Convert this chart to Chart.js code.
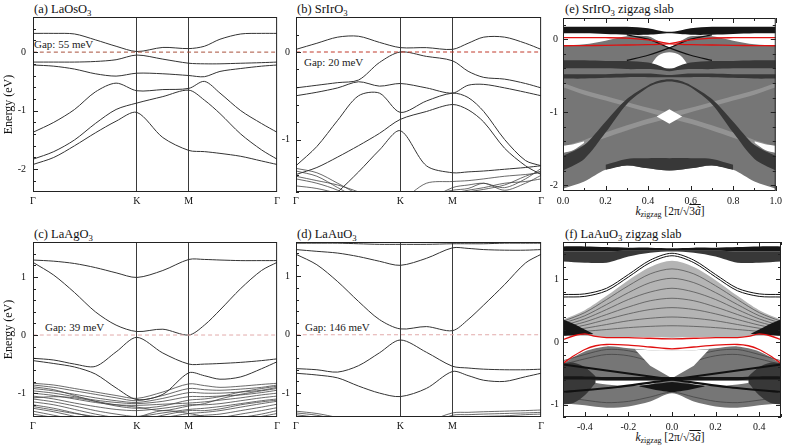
<!DOCTYPE html>
<html>
<head>
<meta charset="utf-8">
<script src="https://cdn.jsdelivr.net/npm/chart.js@4.4.1/dist/chart.umd.min.js"></script>
<style>
  body { margin: 0; background: #fff; width: 789px; height: 447px; position: relative; overflow: hidden;
         font-family: 'Liberation Serif', 'Times New Roman', serif; color: #111; }
  canvas { position: absolute; }
  .t { position: absolute; font-size: 12.5px; white-space: nowrap; line-height: 1; }
  .g { position: absolute; font-size: 11px; white-space: nowrap; line-height: 1; color: #222; }
  .k { position: absolute; font-size: 11.5px; white-space: nowrap; line-height: 1; transform: translateX(-50%); }
  sub { font-size: 0.7em; vertical-align: -0.3em; line-height: 0; }
</style>
</head>
<body>
<div class="t" style="left:34px;top:3px">(a) LaOsO<sub>3</sub></div>
<div class="t" style="left:297px;top:3px">(b) SrIrO<sub>3</sub></div>
<div class="t" style="left:565px;top:3px">(e) SrIrO<sub>3</sub> zigzag slab</div>
<div class="t" style="left:34px;top:228px">(c) LaAgO<sub>3</sub></div>
<div class="t" style="left:297px;top:228px">(d) LaAuO<sub>3</sub></div>
<div class="t" style="left:565px;top:228px">(f) LaAuO<sub>3</sub> zigzag slab</div>

<div class="g" style="left:34px;top:39px">Gap: 55 meV</div>
<div class="g" style="left:304px;top:57px">Gap: 20 meV</div>
<div class="g" style="left:45px;top:322px">Gap: 39 meV</div>
<div class="g" style="left:305px;top:322px">Gap: 146 meV</div>

<div class="k" style="left:670px;top:206px"><i>k</i><sub>zigzag</sub> [2π/√<span style="text-decoration:overline">3<i>ã</i></span>]</div>
<div class="k" style="left:670px;top:432px"><i>k</i><sub>zigzag</sub> [2π/√<span style="text-decoration:overline">3<i>ã</i></span>]</div>

<script>
// k path Γ-K-M-Γ used by the bulk panels
const K_NODES = [0, 1, 1.5, 2.35];
const K_LABELS = ['Γ', 'K', 'M', 'Γ'];
const K_PATH = [0, 0.2, 0.4, 0.6, 0.8, 1.0, 1.25, 1.5, 1.65, 1.8, 2.0, 2.2, 2.35];

// (a) LaOsO3
const aBand1 = [0.32, 0.32, 0.31, 0.21, 0.1, 0.01, 0.08, 0.06, 0.1, 0.22, 0.31, 0.32, 0.32];
const aBand2 = [-0.17, -0.17, -0.17, -0.16, -0.13, -0.05, -0.12, -0.19, -0.2, -0.2, -0.19, -0.18, -0.17];
const aBand3 = [-0.22, -0.24, -0.29, -0.37, -0.41, -0.36, -0.37, -0.40, -0.42, -0.33, -0.28, -0.24, -0.22];
const aBand4 = [-1.37, -1.2, -0.98, -0.68, -0.53, -0.66, -0.64, -0.62, -0.5, -0.7, -1.0, -1.22, -1.37];
const aBand5 = [-1.83, -1.7, -1.5, -1.22, -0.98, -0.87, -0.76, -0.65, -0.82, -1.05, -1.4, -1.67, -1.83];
const aBand6 = [-1.92, -1.8, -1.6, -1.38, -1.18, -1.03, -1.46, -1.68, -1.7, -1.73, -1.78, -1.86, -1.92];
const aYTicks = [-2, -1, 0];

// (b) SrIrO3
const bBand1 = [0.03, 0.1, 0.17, 0.18, 0.11, 0.05, 0.05, 0.03, 0.1, 0.17, 0.17, 0.1, 0.03];
const bBand2 = [-0.41, -0.38, -0.35, -0.32, -0.12, 0.0, -0.05, -0.1, -0.22, -0.29, -0.31, -0.36, -0.41];
const bBand3 = [-0.5, -0.46, -0.41, -0.34, -0.39, -0.36, -0.41, -0.47, -0.38, -0.37, -0.41, -0.46, -0.5];
const bBand4 = [-1.3, -1.08, -0.78, -0.5, -0.47, -0.69, -0.56, -0.47, -0.52, -0.68, -1.0, -1.24, -1.3];
const bBand5 = [-1.4, -1.32, -1.2, -1.07, -0.93, -0.77, -0.68, -0.6, -0.66, -0.8, -1.1, -1.3, -1.4];
const bBand6 = [-1.9, -1.8, -1.6, -1.37, -1.12, -0.9, -1.3, -1.38, -1.37, -1.36, -1.34, -1.32, -1.3];
const bBand7 = [-1.45, -1.5, -1.58, -1.7, -1.75, -1.7, -1.5, -1.48, -1.47, -1.45, -1.42, -1.4, -1.38];
const bBand8 = [-1.33, -1.38, -1.5, -1.63, -1.75, -1.8, -1.7, -1.55, -1.52, -1.5, -1.55, -1.45, -1.33];
const bBand9 = [-1.53, -1.56, -1.62, -1.72, -1.8, -1.85, -1.75, -1.62, -1.58, -1.55, -1.5, -1.48, -1.45];
const bBand10 = [-1.36, -1.42, -1.55, -1.68, -1.8, -1.9, -1.8, -1.66, -1.6, -1.57, -1.52, -1.42, -1.36];
const bBand11 = [-1.42, -1.47, -1.52, -1.6, -1.7, -1.75, -1.65, -1.58, -1.56, -1.5, -1.58, -1.5, -1.41];
const bYTicks = [-1, 0];

// (c) LaAgO3
const cBand1 = [1.29, 1.27, 1.23, 1.16, 1.07, 0.99, 1.11, 1.30, 1.30, 1.29, 1.28, 1.28, 1.28];
const cBand2 = [1.25, 1.03, 0.73, 0.4, 0.17, 0.06, 0.1, 0.0, 0.17, 0.43, 0.8, 1.11, 1.25];
const cBand3 = [-0.4, -0.43, -0.5, -0.54, -0.29, -0.04, -0.31, -0.5, -0.5, -0.49, -0.47, -0.44, -0.41];
const cBand4 = [-0.44, -0.49, -0.55, -0.67, -0.91, -1.11, -1.02, -0.65, -0.7, -0.76, -0.72, -0.58, -0.46];
const cLow1 = [-0.83, -0.86, -0.92, -0.98, -1.04, -1.09, -0.98, -0.84, -0.87, -0.9, -0.88, -0.85, -0.83];
const cLow2 = [-0.86, -0.9, -0.96, -1.02, -1.08, -1.13, -1.04, -0.92, -0.94, -0.95, -0.93, -0.9, -0.86];
const cLow3 = [-0.92, -0.96, -1.02, -1.08, -1.13, -1.16, -1.09, -0.99, -1.0, -1.0, -0.98, -0.95, -0.9];
const cLow4 = [-0.96, -1.0, -1.06, -1.12, -1.16, -1.18, -1.14, -1.06, -1.06, -1.05, -1.03, -0.99, -0.95];
const cLow5 = [-1.0, -1.04, -1.1, -1.16, -1.2, -1.21, -1.19, -1.17, -1.15, -1.12, -1.08, -1.03, -1.0];
const cLow6 = [-1.05, -1.1, -1.17, -1.23, -1.28, -1.3, -1.26, -1.2, -1.2, -1.18, -1.13, -1.08, -1.05];
const cLow7 = [-1.1, -1.15, -1.22, -1.3, -1.36, -1.4, -1.34, -1.28, -1.26, -1.23, -1.18, -1.13, -1.1];
const cLow8 = [-1.15, -1.2, -1.28, -1.36, -1.42, -1.45, -1.42, -1.35, -1.33, -1.3, -1.24, -1.18, -1.14];
const cLow9 = [-1.2, -1.26, -1.34, -1.42, -1.48, -1.5, -1.46, -1.4, -1.38, -1.36, -1.3, -1.24, -1.19];
const cLow10 = [-1.26, -1.32, -1.4, -1.48, -1.52, -1.55, -1.5, -1.44, -1.43, -1.42, -1.36, -1.3, -1.25];
const cLow11 = [-1.31, -1.38, -1.45, -1.52, -1.58, -1.6, -1.55, -1.48, -1.5, -1.48, -1.42, -1.36, -1.3];
const cLow12 = [-1.36, -1.42, -1.5, -1.56, -1.6, -1.62, -1.6, -1.55, -1.55, -1.52, -1.47, -1.4, -1.35];
const cLow13 = [-1.6, -1.6, -1.6, -1.6, -1.55, -1.42, -1.3, -1.35, -1.4, -1.45, -1.5, -1.55, -1.6];
const cLow14 = [-0.89, -0.94, -1.04, -1.14, -1.22, -1.26, -1.22, -1.12, -1.1, -1.06, -0.98, -0.92, -0.88];
const cLow15 = [-1.08, -1.06, -1.08, -1.14, -1.2, -1.24, -1.3, -1.22, -1.18, -1.1, -1.02, -0.96, -0.92];
const cLow16 = [-1.23, -1.29, -1.35, -1.4, -1.44, -1.47, -1.38, -1.3, -1.3, -1.27, -1.2, -1.15, -1.12];
const cYTicks = [-1, 0, 1];

// (d) LaAuO3
const dBand0 = [1.57, 1.57, 1.57, 1.56, 1.55, 1.55, 1.55, 1.56, 1.56, 1.56, 1.57, 1.57, 1.57];
const dBand1 = [1.46, 1.43, 1.4, 1.34, 1.26, 1.19, 1.31, 1.49, 1.48, 1.46, 1.45, 1.45, 1.46];
const dBand2 = [1.38, 1.2, 0.91, 0.57, 0.26, 0.1, 0.14, 0.07, 0.26, 0.51, 0.86, 1.23, 1.38];
const dBand3 = [-0.58, -0.6, -0.64, -0.53, -0.31, -0.09, -0.3, -0.54, -0.57, -0.59, -0.6, -0.6, -0.59];
const dBand4 = [-0.66, -0.69, -0.74, -0.88, -1.0, -1.06, -0.92, -0.63, -0.7, -0.78, -0.8, -0.72, -0.66];
const dLow1 = [-1.31, -1.35, -1.42, -1.5, -1.6, -1.65, -1.5, -1.34, -1.33, -1.32, -1.31, -1.3, -1.29];
const dLow2 = [-1.34, -1.38, -1.46, -1.55, -1.62, -1.7, -1.55, -1.38, -1.37, -1.36, -1.35, -1.34, -1.33];
const dLow3 = [-1.37, -1.42, -1.5, -1.6, -1.7, -1.75, -1.6, -1.42, -1.41, -1.4, -1.39, -1.37, -1.36];
const dYTicks = [-1, 0, 1];

// (e) SrIrO3 zigzag slab: envelopes of the bundles of slab bands
const eK = [0, 0.1, 0.2, 0.3, 0.4, 0.45, 0.5, 0.55, 0.6, 0.7, 0.8, 0.9, 1.0];
const eFanHi = [-0.09, -0.07, -0.02, 0.04, 0.04, -0.03, -0.11, -0.03, 0.04, 0.04, -0.02, -0.07, -0.09];
const eFanLo = [-2.05, -1.95, -1.79, -1.73, -1.77, -1.79, -1.8, -1.79, -1.77, -1.73, -1.79, -1.95, -2.05];
const eTopHi = [0.17, 0.17, 0.17, 0.17, 0.15, 0.12, 0.10, 0.12, 0.15, 0.17, 0.17, 0.17, 0.17];
const eTopLo = [0.08, 0.08, 0.07, 0.06, 0.06, 0.07, 0.08, 0.07, 0.06, 0.06, 0.07, 0.08, 0.08];
const eMidHi = [-0.29, -0.29, -0.3, -0.3, -0.32, -0.36, -0.41, -0.36, -0.32, -0.3, -0.3, -0.29, -0.29];
const eMidLo = [-0.4, -0.4, -0.4, -0.41, -0.41, -0.42, -0.44, -0.42, -0.41, -0.41, -0.4, -0.4, -0.4];
const eLowHi = [-0.48, -0.48, -0.48, -0.47, -0.47, -0.48, -0.49, -0.48, -0.47, -0.47, -0.48, -0.48, -0.48];
const eLowLo = [-0.54, -0.54, -0.53, -0.52, -0.52, -0.52, -0.52, -0.52, -0.52, -0.52, -0.53, -0.54, -0.54];
const eDomeHi = [-1.6, -1.45, -1.13, -0.82, -0.63, -0.57, -0.55, -0.57, -0.63, -0.82, -1.13, -1.45, -1.6];
const eDomeLo = [-1.8, -1.64, -1.28, -0.89, -0.66, -0.6, -0.58, -0.6, -0.66, -0.89, -1.28, -1.64, -1.8];
const eStreakK = [0, 0.1, 0.2, 0.3, 0.4, 0.5, 0.6, 0.7, 0.8, 0.9, 1.0];
const eStreakHi1 = [-0.6, -0.7, -0.78, -0.86, -0.94, -1.01, -1.09, -1.18, -1.28, -1.38, -1.47];
const eStreakLo1 = [-0.66, -0.76, -0.84, -0.92, -1.0, -1.08, -1.16, -1.25, -1.35, -1.45, -1.54];
const eStreakHi2 = [-1.47, -1.38, -1.28, -1.18, -1.09, -1.01, -0.94, -0.86, -0.78, -0.7, -0.6];
const eStreakLo2 = [-1.54, -1.45, -1.35, -1.25, -1.16, -1.08, -1.0, -0.92, -0.84, -0.76, -0.66];
const eHoleK = [0.41, 0.45, 0.5, 0.55, 0.59];
const eHoleHi = [-0.36, -0.22, -0.18, -0.22, -0.36];
const eHoleLo = [-0.36, -0.39, -0.4, -0.39, -0.36];
const eDiaK = [0.44, 0.5, 0.56];
const eDiaHi = [-1.06, -0.96, -1.06];
const eDiaLo = [-1.06, -1.16, -1.06];
const eGapK1 = [0, 0.05, 0.1];
const eGapHi1 = [-1.46, -1.44, -1.4];
const eGapLo1 = [-1.56, -1.52, -1.42];
const eGapK2 = [0.9, 0.95, 1.0];
const eGapHi2 = [-1.4, -1.44, -1.46];
const eGapLo2 = [-1.42, -1.52, -1.56];
const eBotK = [0.2, 0.3, 0.4, 0.5, 0.6, 0.7, 0.8];
const eBotHi = [-1.72, -1.64, -1.63, -1.63, -1.63, -1.64, -1.72];
const eBotLo = [-1.79, -1.73, -1.77, -1.8, -1.77, -1.73, -1.79];
const eXK = [0.3, 0.4, 0.5, 0.6, 0.7];
const eX1 = [0.06, 0.0, -0.12, -0.22, -0.29];
const eX2 = [-0.29, -0.22, -0.12, 0.0, 0.06];
const eRed1 = [0.02, 0.02, 0.02, 0.015, -0.01, -0.035, -0.06, -0.07, -0.075, -0.08, -0.085, -0.088, -0.09];
const eRed2 = [-0.09, -0.088, -0.085, -0.08, -0.075, -0.07, -0.06, -0.035, -0.01, 0.015, 0.02, 0.02, 0.02];
const eXTicks = [0, 0.2, 0.4, 0.6, 0.8, 1.0];
const eYTicks = [-2, -1, 0];

// (f) LaAuO3 zigzag slab
const fK = [-0.5, -0.4, -0.3, -0.2, -0.1, 0, 0.1, 0.2, 0.3, 0.4, 0.5];
const fTopHi = [1.53, 1.53, 1.52, 1.51, 1.51, 1.5, 1.51, 1.51, 1.52, 1.53, 1.53];
const fTopLo = [1.45, 1.45, 1.45, 1.46, 1.46, 1.46, 1.46, 1.46, 1.45, 1.45, 1.45];
const fWedgeLo = [1.29, 1.27, 1.27, 1.37, 1.43, 1.45, 1.43, 1.37, 1.27, 1.27, 1.29];
const fEdge1 = [0.76, 0.77, 0.86, 1.08, 1.31, 1.42, 1.31, 1.08, 0.86, 0.77, 0.76];
const fEdge2 = [0.72, 0.73, 0.82, 1.04, 1.27, 1.38, 1.27, 1.04, 0.82, 0.73, 0.72];
const fDomeHi = [0.36, 0.51, 0.74, 0.99, 1.2, 1.3, 1.2, 0.99, 0.74, 0.51, 0.36];
const fDomeLo = [0.1, 0.1, 0.08, 0.08, 0.08, 0.07, 0.08, 0.08, 0.08, 0.1, 0.1];
const fArc1 = [0.33, 0.47, 0.68, 0.9, 1.09, 1.17, 1.09, 0.9, 0.68, 0.47, 0.33];
const fArc2 = [0.3, 0.42, 0.6, 0.79, 0.95, 1.02, 0.95, 0.79, 0.6, 0.42, 0.3];
const fArc3 = [0.26, 0.37, 0.52, 0.68, 0.8, 0.86, 0.8, 0.68, 0.52, 0.37, 0.26];
const fArc4 = [0.23, 0.32, 0.44, 0.56, 0.66, 0.7, 0.66, 0.56, 0.44, 0.32, 0.23];
const fArc5 = [0.2, 0.27, 0.36, 0.45, 0.52, 0.55, 0.52, 0.45, 0.36, 0.27, 0.2];
const fArc6 = [0.17, 0.22, 0.28, 0.34, 0.38, 0.4, 0.38, 0.34, 0.28, 0.22, 0.17];
const fArc7 = [0.14, 0.17, 0.2, 0.23, 0.25, 0.26, 0.25, 0.23, 0.2, 0.17, 0.14];
const fHornK1 = [-0.5, -0.45, -0.4, -0.36];
const fHornHi1 = [0.36, 0.29, 0.2, 0.13];
const fHornLo1 = [0.1, 0.11, 0.12, 0.13];
const fHornK2 = [0.36, 0.4, 0.45, 0.5];
const fHornHi2 = [0.13, 0.2, 0.29, 0.36];
const fHornLo2 = [0.13, 0.12, 0.11, 0.1];
const fFanHi = [-0.34, -0.15, -0.07, -0.1, -0.13, -0.14, -0.13, -0.1, -0.07, -0.15, -0.34];
const fFanLo = [-0.98, -1.01, -1.05, -1.03, -0.95, -0.82, -0.95, -1.03, -1.05, -1.01, -0.98];
const fVeeK = [-0.17, -0.1, 0, 0.1, 0.17];
const fVeeHi = [-0.12, -0.13, -0.14, -0.13, -0.12];
const fVeeLo = [-0.12, -0.38, -0.58, -0.38, -0.12];
const fDarkK1 = [-0.5, -0.45, -0.4, -0.35];
const fDarkHi1 = [-0.34, -0.33, -0.4, -0.55];
const fDarkLo1 = [-1.0, -0.97, -0.85, -0.65];
const fDarkK2 = [0.35, 0.4, 0.45, 0.5];
const fDarkHi2 = [-0.55, -0.4, -0.33, -0.34];
const fDarkLo2 = [-0.65, -0.85, -0.97, -1.0];
const fCrossHi = [-0.55, -0.55, -0.56, -0.56, -0.56, -0.56, -0.56, -0.56, -0.56, -0.55, -0.55];
const fCrossLo = [-0.6, -0.6, -0.61, -0.61, -0.61, -0.61, -0.61, -0.61, -0.61, -0.6, -0.6];
const fLensK1 = [-0.41, -0.3, -0.2, -0.1, -0.05];
const fLensHi1 = [-0.62, -0.62, -0.62, -0.62, -0.62];
const fLensLo1 = [-0.62, -0.68, -0.7, -0.68, -0.62];
const fLensK2 = [0.05, 0.1, 0.2, 0.3, 0.41];
const fLensHi2 = [-0.62, -0.62, -0.62, -0.62, -0.62];
const fLensLo2 = [-0.62, -0.68, -0.7, -0.68, -0.62];
const fBlobK = [-0.15, -0.05, 0, 0.05, 0.15];
const fBlobHi = [-0.7, -0.66, -0.64, -0.66, -0.7];
const fBlobLo = [-0.71, -0.78, -0.8, -0.78, -0.71];
const fLobe1 = [-0.3, -0.2, -0.12, -0.14, -0.24, -0.5, -0.24, -0.14, -0.12, -0.2, -0.3];
const fLobe2 = [-0.36, -0.27, -0.2, -0.22, -0.32, -0.54, -0.32, -0.22, -0.2, -0.27, -0.36];
const fLobe3 = [-0.88, -0.93, -0.97, -0.95, -0.88, -0.8, -0.88, -0.95, -0.97, -0.93, -0.88];
const fXK = [-0.5, -0.25, 0, 0.25, 0.5];
const fX1 = [-0.36, -0.48, -0.6, -0.72, -0.8];
const fX2 = [-0.8, -0.72, -0.6, -0.48, -0.36];
const fRedK = [-0.5, -0.45, -0.4, -0.35, -0.3, -0.2, -0.1, 0, 0.1, 0.2, 0.3, 0.35, 0.4, 0.45, 0.5];
const fRed1 = [0.04, 0.1, 0.13, 0.09, 0.07, 0.07, 0.06, 0.05, 0.06, 0.07, 0.07, 0.09, 0.13, 0.1, 0.04];
const fRed2 = [-0.34, -0.22, -0.12, -0.06, -0.04, -0.05, -0.08, -0.11, -0.08, -0.05, -0.04, -0.06, -0.12, -0.22, -0.34];
const fXTicks = [-0.4, -0.2, 0, 0.2, 0.4];
const fYTicks = [-1, 0, 1];

const SERIF = "'Liberation Serif', 'Times New Roman', serif";
const LINE = '#333';
// shades standing in for bundles of closely spaced slab bands
const FAN = '#767676';
const FAN_LIGHT = '#b4b4b4';
const STREAK = '#939393';
const FAN_DARK = '#383838';
const BLACK = '#161616';

function pts(k, e) { return k.map((x, i) => ({ x: x, y: e[i] })); }

function line(k, e, color, width, dash) {
  return { data: pts(k, e), borderColor: color, borderWidth: width, borderDash: dash || [],
           fill: false, pointRadius: 0, tension: 0.3 };
}

// pair of invisible envelope lines, the upper one filled down to the lower one
function region(list, k, hi, lo, bg, tension) {
  const loIdx = list.length + 1;
  const t = tension === undefined ? 0.3 : tension;
  list.push({ data: pts(k, hi), borderColor: 'rgba(0,0,0,0)', borderWidth: 0, pointRadius: 0,
              tension: t, fill: loIdx, backgroundColor: bg });
  list.push({ data: pts(k, lo), borderColor: 'rgba(0,0,0,0)', borderWidth: 0, pointRadius: 0,
              tension: t, fill: false });
}

// inward tick marks and the frame
const frameTicks = {
  id: 'frameTicks',
  afterDatasetsDraw(chart, args, o) {
    const { ctx, chartArea: a, scales: { x, y } } = chart;
    ctx.save();
    ctx.strokeStyle = '#222';
    ctx.lineWidth = 1;
    ctx.beginPath();
    const yi0 = Math.ceil(y.min / o.yStep - 1e-6), yi1 = Math.floor(y.max / o.yStep + 1e-6);
    for (let i = yi0; i <= yi1; i++) {
      const v = i * o.yStep;
      const major = Math.abs(v - Math.round(v)) < 1e-6;
      const len = major ? 5 : 3;
      const py = Math.round(y.getPixelForValue(v)) + 0.5;
      ctx.moveTo(a.left, py); ctx.lineTo(a.left + len, py);
      if (o.box) { ctx.moveTo(a.right, py); ctx.lineTo(a.right - len, py); }
    }
    if (o.xStep) {
      const xi0 = Math.ceil(x.min / o.xStep - 1e-6), xi1 = Math.floor(x.max / o.xStep + 1e-6);
      for (let i = xi0; i <= xi1; i++) {
        const v = i * o.xStep;
        const len = i % 2 === 0 ? 5 : 3;
        const px = Math.round(x.getPixelForValue(v)) + 0.5;
        ctx.moveTo(px, a.bottom); ctx.lineTo(px, a.bottom - len);
        ctx.moveTo(px, a.top); ctx.lineTo(px, a.top + len);
      }
    }
    ctx.stroke();
    ctx.strokeRect(a.left + 0.5, a.top + 0.5, a.right - a.left - 1, a.bottom - a.top - 1);
    ctx.restore();
  }
};

function mk(left, top, w, h) {
  const c = document.createElement('canvas');
  c.width = w; c.height = h;
  c.style.left = left + 'px'; c.style.top = top + 'px';
  c.style.width = w + 'px'; c.style.height = h + 'px';
  document.body.appendChild(c);
  return c;
}

function chart(canvas, p) {
  p.datasets.forEach((d, i) => { d.order = p.datasets.length - i; });
  return new Chart(canvas, {
    type: 'line',
    data: { datasets: p.datasets },
    plugins: [frameTicks],
    options: {
      responsive: false,
      animation: false,
      events: [],
      layout: { padding: { top: p.padTop, right: p.padRight, left: 0, bottom: 0 } },
      plugins: {
        legend: { display: false },
        tooltip: { enabled: false },
        frameTicks: { yStep: 0.2, xStep: p.xStep, box: p.box }
      },
      scales: {
        x: {
          type: 'linear', min: p.xMin, max: p.xMax,
          afterBuildTicks: s => { s.ticks = p.xTicks.map(v => ({ value: v })); },
          afterFit: s => { s.height = p.xH; },
          ticks: { autoSkip: false, maxRotation: 0, padding: p.xPad, color: '#111',
                   font: { family: SERIF, size: 10 }, callback: (v, i) => p.xLabels[i] },
          grid: { drawTicks: false, lineWidth: 1,
                  color: c => (p.innerLines && c.index > 0 && c.index < p.xTicks.length - 1) ? '#3a3a3a' : 'rgba(0,0,0,0)' },
          border: { display: false }
        },
        y: {
          type: 'linear', min: p.yMin, max: p.yMax,
          afterBuildTicks: s => { s.ticks = p.yTicks.map(v => ({ value: v })); },
          afterFit: s => { s.width = p.yW; },
          ticks: { autoSkip: false, padding: p.yPad, color: '#111', font: { family: SERIF, size: 10 },
                   callback: v => String(v) },
          grid: { display: false, drawTicks: false },
          border: { display: false },
          title: { display: !!p.yTitle, text: p.yTitle || '', color: '#111', padding: { top: 2, bottom: 0 },
                   font: { family: SERIF, size: 12 } }
        }
      }
    }
  });
}

function bulkSets(bands, lows, zeroColor) {
  const ds = [];
  lows.forEach(b => ds.push(line(K_PATH, b, '#444', 0.8)));
  bands.forEach(b => ds.push(line(K_PATH, b, LINE, 1)));
  ds.push(line([0, 2.35], [0, 0], zeroColor, 1, [4, 3]));
  return ds;
}

function bulk(left, top, w, yW, yPad, bands, lows, zeroColor, yMin, yMax, yTicks, yTitle) {
  chart(mk(left, top, w, 210), {
    datasets: bulkSets(bands, lows, zeroColor),
    padTop: 17, padRight: 3, xH: 18, xPad: 3, yW: yW, yPad: yPad, yTitle: yTitle,
    xMin: 0, xMax: 2.35, xTicks: K_NODES, xLabels: K_LABELS, innerLines: true,
    yMin: yMin, yMax: yMax, yTicks: yTicks, box: false
  });
}

bulk(0, 0, 283, 33, 7, [aBand1, aBand2, aBand3, aBand4, aBand5, aBand6], [], '#a8503c',
     -2.39, 0.6, aYTicks, 'Energy (eV)');
bulk(280, 0, 267, 16, 6, [bBand1, bBand2, bBand3, bBand4, bBand5, bBand6],
     [bBand7, bBand8, bBand9, bBand10, bBand11], '#c0392b', -1.6, 0.4, bYTicks, '');
bulk(0, 225, 283, 33, 7, [cBand1, cBand2, cBand3, cBand4],
     [cLow1, cLow2, cLow3, cLow4, cLow5, cLow6, cLow7, cLow8, cLow9, cLow10, cLow11, cLow12, cLow13,
      cLow14, cLow15, cLow16],
     '#e2aaaa', -1.41, 1.6, cYTicks, 'Energy (eV)');
bulk(280, 225, 267, 16, 6, [dBand0, dBand1, dBand2, dBand3, dBand4], [dLow1, dLow2, dLow3],
     '#e2aaaa', -1.41, 1.59, dYTicks, '');

// (e) slab
const eSets = [];
region(eSets, eK, eFanHi, eFanLo, FAN);
region(eSets, eStreakK, eStreakHi1, eStreakLo1, STREAK);
region(eSets, eStreakK, eStreakHi2, eStreakLo2, STREAK);
region(eSets, eHoleK, eHoleHi, eHoleLo, '#fff');
region(eSets, eDiaK, eDiaHi, eDiaLo, '#fff', 0);
region(eSets, eGapK1, eGapHi1, eGapLo1, '#fff');
region(eSets, eGapK2, eGapHi2, eGapLo2, '#fff');
region(eSets, eK, eTopHi, eTopLo, BLACK);
region(eSets, eK, eMidHi, eMidLo, FAN_DARK);
region(eSets, eK, eLowHi, eLowLo, FAN_DARK);
region(eSets, eK, eDomeHi, eDomeLo, FAN_DARK);
region(eSets, eBotK, eBotHi, eBotLo, FAN_DARK);
eSets.push(line(eXK, eX1, '#111', 1.2));
eSets.push(line(eXK, eX2, '#111', 1.2));
eSets.push(line(eK, eRed1, '#e01010', 1.3));
eSets.push(line(eK, eRed2, '#e01010', 1.3));
chart(mk(545, 0, 241, 212), {
  datasets: eSets, padTop: 18, padRight: 5, xH: 21, xPad: 4, yW: 18, yPad: 5,
  xMin: 0, xMax: 1, xTicks: eXTicks, xLabels: eXTicks.map(v => v.toFixed(1)), innerLines: false,
  yMin: -2.08, yMax: 0.29, yTicks: eYTicks, xStep: 0.1, box: true
});

// (f) slab
const fSets = [];
region(fSets, fK, fTopLo, fWedgeLo, FAN_DARK);
region(fSets, fK, fDomeHi, fDomeLo, FAN_LIGHT);
[fArc1, fArc2, fArc3, fArc4, fArc5, fArc6, fArc7].forEach(a => fSets.push(line(fK, a, '#555', 0.8)));
region(fSets, fK, fFanHi, fFanLo, FAN);
[fLobe1, fLobe2, fLobe3].forEach(a => fSets.push(line(fK, a, '#444', 0.8)));
region(fSets, fVeeK, fVeeHi, fVeeLo, '#fff', 0);
region(fSets, fLensK1, fLensHi1, fLensLo1, '#fff');
region(fSets, fLensK2, fLensHi2, fLensLo2, '#fff');
region(fSets, fK, fTopHi, fTopLo, BLACK);
region(fSets, fHornK1, fHornHi1, fHornLo1, BLACK);
region(fSets, fHornK2, fHornHi2, fHornLo2, BLACK);
region(fSets, fDarkK1, fDarkHi1, fDarkLo1, FAN_DARK);
region(fSets, fDarkK2, fDarkHi2, fDarkLo2, FAN_DARK);
region(fSets, fK, fCrossHi, fCrossLo, BLACK);
region(fSets, fBlobK, fBlobHi, fBlobLo, BLACK);
fSets.push(line(fXK, fX1, '#111', 2.2));
fSets.push(line(fXK, fX2, '#111', 2.2));
fSets.push(line(fK, fEdge1, '#111', 1));
fSets.push(line(fK, fEdge2, '#111', 1));
fSets.push(line(fRedK, fRed1, '#e01010', 1.3));
fSets.push(line(fRedK, fRed2, '#e01010', 1.3));
chart(mk(545, 225, 241, 213), {
  datasets: fSets, padTop: 17, padRight: 5, xH: 21, xPad: 4, yW: 18, yPad: 4,
  xMin: -0.5, xMax: 0.5, xTicks: fXTicks, xLabels: fXTicks.map(v => v.toFixed(1)), innerLines: false,
  yMin: -1.2, yMax: 1.6, yTicks: fYTicks, xStep: 0.1, box: true
});
</script>
</body>
</html>
